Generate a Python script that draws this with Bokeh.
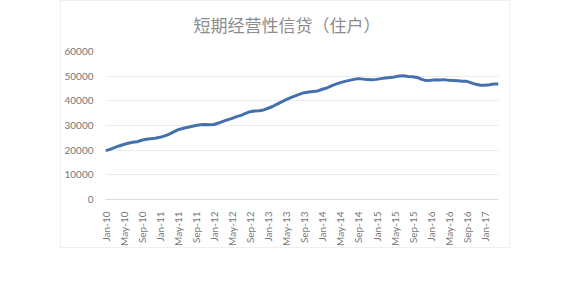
import math
from bokeh.plotting import figure
from bokeh.models import Range1d, FixedTicker, Title
from bokeh.embed import file_html
from bokeh.resources import INLINE

title_text = "短期经营性信贷（住户）"

month_names = ["Jan", "Feb", "Mar", "Apr", "May", "Jun",
               "Jul", "Aug", "Sep", "Oct", "Nov", "Dec"]
months = [f"{m}-{y:02d}" for y in range(10, 18) for m in month_names][:88]

values = [
    19800, 20300, 21000, 21700, 22300, 22800, 23200, 23400, 24000, 24400, 24600, 24800,
    25200, 25700, 26400, 27300, 28200, 28800, 29200, 29600, 30000, 30300, 30400, 30300,
    30400, 31000, 31700, 32300, 32900, 33600, 34100, 34900, 35600, 35900, 36000, 36300,
    37000, 37700, 38700, 39600, 40500, 41300, 42000, 42700, 43300, 43600, 43800, 44000,
    44700, 45200, 46100, 46800, 47400, 47900, 48300, 48700, 49000, 48800, 48600, 48500,
    48700, 49000, 49300, 49500, 49700, 50100, 50200, 49900, 49800, 49500, 48700, 48200,
    48300, 48500, 48400, 48600, 48300, 48200, 48100, 47900, 47900, 47300, 46700, 46300,
    46300, 46500, 46800, 46800,
]

y_ticks = [0, 10000, 20000, 30000, 40000, 50000, 60000]
x_tick_idx = list(range(0, len(months), 4))

xs = list(range(len(values)))

p = figure(width=450, height=248, output_backend="svg", toolbar_location=None,
           x_range=Range1d(0, len(values) - 1), y_range=Range1d(0, 60000),
           min_border_left=41, min_border_right=13, min_border_top=50,
           min_border_bottom=50, margin=(0, 0, 0, 60))
p.styles = {"border": "1px solid #efefef"}
p.outline_line_color = None
p.background_fill_color = "white"
p.border_fill_color = "white"

p.title.text = title_text
p.title.align = "left"
p.title.offset = 88
p.title.standoff = 12
p.title.text_font = "Noto Sans CJK SC"
p.title.text_font_size = "17px"
p.title.text_font_style = "normal"
p.title.text_color = "#8c8c8c"

# thin empty spacer between the title and the plot area
p.add_layout(Title(text=" ", text_font_size="7px", standoff=0), "above")

p.line(xs, values, line_color="#4470AE", line_width=3)

# y axis
p.yaxis.ticker = FixedTicker(ticks=y_ticks)
p.yaxis.axis_line_color = None
p.yaxis.major_tick_line_color = None
p.yaxis.minor_tick_line_color = None
p.yaxis.major_label_standoff = 6
p.yaxis.major_label_text_font = "Lato"
p.yaxis.major_label_text_font_size = "10px"
p.yaxis.major_label_text_color = "#777777"

# x axis
p.xaxis.ticker = FixedTicker(ticks=x_tick_idx)
p.xaxis.major_label_overrides = {i: months[i] for i in x_tick_idx}
p.xaxis.major_label_orientation = math.pi / 2
p.xaxis.axis_line_color = "#dcdcdc"
p.xaxis.major_tick_line_color = None
p.xaxis.minor_tick_line_color = None
p.xaxis.major_label_standoff = 6
p.xaxis.major_label_text_font = "Lato"
p.xaxis.major_label_text_font_size = "10px"
p.xaxis.major_label_text_color = "#777777"

p.xgrid.grid_line_color = None
p.ygrid.grid_line_color = "#ececec"
p.ygrid.ticker = FixedTicker(ticks=y_ticks)

open("out.html", "w").write(file_html(p, INLINE))
